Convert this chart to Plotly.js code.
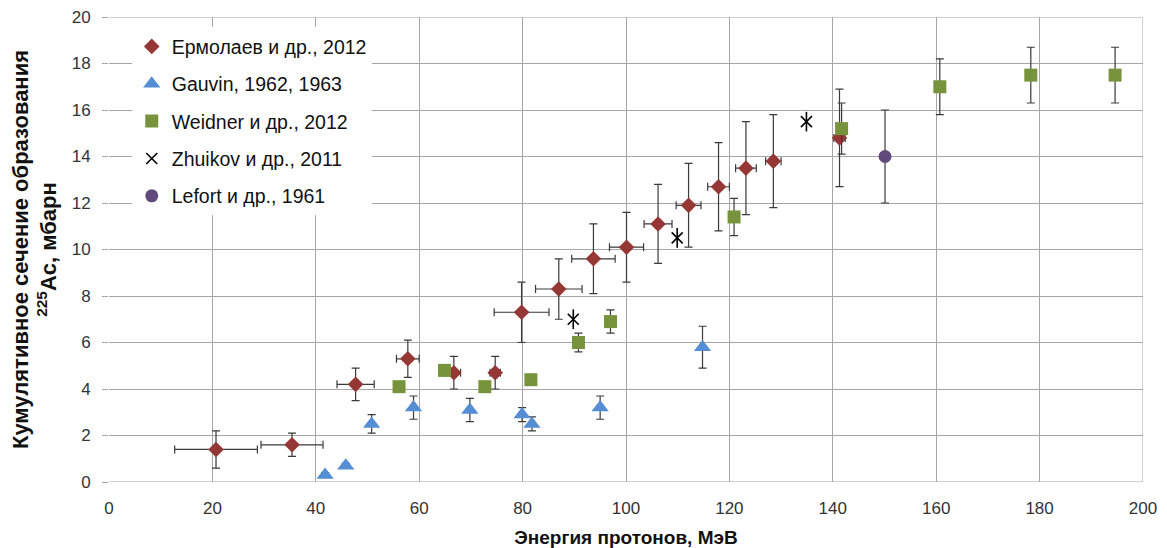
<!DOCTYPE html>
<html><head><meta charset="utf-8">
<script src="https://cdn.plot.ly/plotly-3.0.1.min.js"></script>
<style>html,body{margin:0;padding:0;background:#fff}#chart{width:1167px;height:548px}</style>
</head><body><div id="chart"></div>
<script>
// Ермолаев и др., 2012
const ermE   = [20.7, 35.4, 47.7, 57.8, 66.7, 74.7, 79.8, 87.0, 93.7, 100.1, 106.2, 112.1, 117.9, 123.2, 128.5, 141.3];
const ermV   = [1.4, 1.6, 4.2, 5.3, 4.7, 4.7, 7.3, 8.3, 9.6, 10.1, 11.1, 11.9, 12.7, 13.5, 13.8, 14.8];
const ermDV  = [0.8, 0.5, 0.7, 0.8, 0.7, 0.7, 1.3, 1.3, 1.5, 1.5, 1.7, 1.8, 1.9, 2.0, 2.0, 2.1];
const ermDE  = [8.0, 6.0, 3.6, 2.2, 1.3, 1.0, 5.3, 4.5, 4.2, 3.3, 2.7, 2.4, 2.1, 2.0, 1.5, 1.1];
// Gauvin, 1962, 1963
const gauE   = [41.8, 45.8, 50.8, 58.9, 69.8, 79.9, 81.8, 95.0, 114.8];
const gauV   = [0.3, 0.7, 2.5, 3.2, 3.1, 2.9, 2.5, 3.2, 5.8];
const gauDV  = [0.1, 0.1, 0.4, 0.5, 0.5, 0.3, 0.3, 0.5, 0.9];
// Weidner и др., 2012
const weiE   = [56.1, 64.9, 72.7, 81.6, 90.8, 97.0, 120.9, 141.7, 160.7, 178.3, 194.6];
const weiV   = [4.1, 4.8, 4.1, 4.4, 6.0, 6.9, 11.4, 15.2, 17.0, 17.5, 17.5];
const weiDV  = [0.2, 0.2, 0.2, 0.2, 0.4, 0.5, 0.8, 1.1, 1.2, 1.2, 1.2];
// Zhuikov и др., 2011
const zhuE   = [89.8, 109.9, 134.9];
const zhuV   = [7.0, 10.5, 15.5];
// Lefort и др., 1961
const lefE   = [150.1];
const lefV   = [14.0];
const lefDV  = [2.0];

const names = ['Ермолаев и др., 2012', 'Gauvin, 1962, 1963', 'Weidner и др., 2012', 'Zhuikov и др., 2011', 'Lefort и др., 1961'];
const xTicks = [0, 20, 40, 60, 80, 100, 120, 140, 160, 180, 200];
const yTicks = [0, 2, 4, 6, 8, 10, 12, 14, 16, 18, 20];

const errCol = '#3a3a3a';
function ey(arr){ return {type:'data', array:arr, visible:true, color:errCol, thickness:1.2, width:4}; }

const traces = [
  {x:ermE, y:ermV, name:names[0], type:'scatter', mode:'markers', legendgroup:'a',
   marker:{symbol:'diamond', size:12, color:'#953735'}, error_y:ey(ermDV), error_x:ey(ermDE)},
  {x:gauE, y:gauV, name:names[1], type:'scatter', mode:'markers', legendgroup:'b',
   marker:{symbol:'triangle-up', size:15, color:'#558ED5'}, error_y:ey(gauDV)},
  {x:weiE, y:weiV, name:names[2], type:'scatter', mode:'markers', legendgroup:'c',
   marker:{symbol:'square', size:13, color:'#77933C'}, error_y:ey(weiDV)},
  {x:zhuE, y:zhuV, name:names[3], type:'scatter', mode:'markers', legendgroup:'d',
   marker:{symbol:'x-thin-open', size:11, color:'#000', line:{color:'#000', width:1.6}}},
  {x:zhuE, y:zhuV, name:names[3], type:'scatter', mode:'markers', legendgroup:'d', showlegend:false,
   marker:{symbol:'line-ns-open', size:14, color:'#000', line:{color:'#000', width:1.6}}},
  {x:lefE, y:lefV, name:names[4], type:'scatter', mode:'markers', legendgroup:'e',
   marker:{symbol:'circle', size:13, color:'#604A7B'}, error_y:ey(lefDV)}
];

const layout = {
  width:1167, height:548,
  margin:{l:109, r:24, t:17, b:66},
  paper_bgcolor:'#fff', plot_bgcolor:'#fff',
  font:{family:'"Liberation Sans", Arial, sans-serif', color:'#222', size:16},
  showlegend:true,
  legend:{x:0.022, y:0.978, xanchor:'left', yanchor:'top', bgcolor:'#fff',
          font:{size:19.5, color:'#111'}, traceorder:'grouped', tracegroupgap:9,
          itemwidth:30},
  xaxis:{range:[0,200], tickvals:xTicks, ticktext:xTicks.map(String), showgrid:true,
         gridcolor:'#a6a6a6', gridwidth:1, zeroline:false, showline:false, ticks:'',
         ticklabelstandoff:14,
         tickfont:{size:17, color:'#333'},
         title:{text:'<b>Энергия протонов, МэВ</b>', font:{size:19, color:'#111'}, standoff:14}},
  yaxis:{range:[0,20], tickvals:yTicks, ticktext:yTicks.map(String), showgrid:true,
         gridcolor:'#a6a6a6', gridwidth:1, zeroline:false, showline:false,
         ticks:'outside', ticklen:6, tickcolor:'#a6a6a6', ticklabelstandoff:8,
         tickfont:{size:17, color:'#333'},
         title:{text:'<b>Кумулятивное сечение образования<br><sup>225</sup>Ac, мбарн</b>', font:{size:22, color:'#111'}, standoff:8}},
  shapes:[
    {type:'line', xref:'x', yref:'y', x0:0, x1:200, y0:0, y1:0, line:{color:'#a6a6a6', width:1}},
    {type:'line', xref:'x', yref:'y', x0:200, x1:200, y0:0, y1:20, line:{color:'#a6a6a6', width:1}},
    {type:'line', xref:'x', yref:'y', x0:0, x1:200, y0:20, y1:20, line:{color:'#a6a6a6', width:1}}
  ]
};

Plotly.newPlot('chart', traces, layout, {displayModeBar:false, staticPlot:true});
</script></body></html>
